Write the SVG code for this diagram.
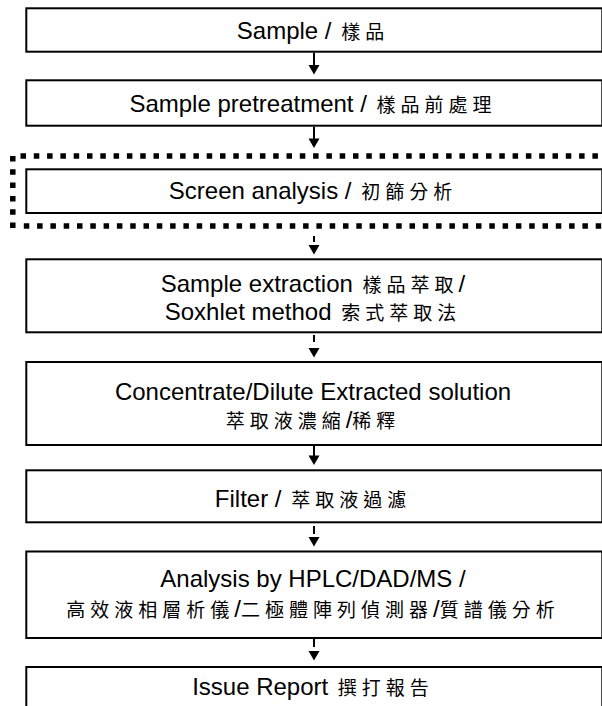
<svg xmlns="http://www.w3.org/2000/svg" xmlns:xlink="http://www.w3.org/1999/xlink" width="602" height="706" viewBox="0 0 602 706">
<style>
.box{fill:#fff;stroke:#000;stroke-width:2}
.t{font-family:"Liberation Sans",Arial,"Noto Sans CJK TC",sans-serif;font-size:24px;fill:#000;text-anchor:middle}
.c{font-family:"Noto Sans CJK TC","Noto Sans CJK SC",sans-serif;font-size:19px;letter-spacing:5px}
.ln{stroke:#000;stroke-width:2;fill:none}
.dot{stroke:#000;stroke-width:5.5;fill:none;stroke-dasharray:5.5 7.8}
</style>
<defs>
<path id="head" d="M-5.5,0 L5.5,0 L0,9.5 Z" fill="#000"/>
</defs>
<rect width="602" height="706" fill="#fff"/>
<g id="screen-frame">
<line class="dot" x1="20.5" y1="156" x2="606" y2="156"/>
<line class="dot" x1="12.8" y1="156" x2="12.8" y2="228"/>
<line class="dot" x1="23.8" y1="226" x2="606" y2="226"/>
</g>
<g id="n1"><rect class="box" x="26.3" y="8.3" width="576" height="43.4"/>
<text class="t" x="313" y="39">Sample / <tspan class="c" dx="3">樣品</tspan></text></g>
<g id="n2"><rect class="box" x="26.3" y="80.3" width="576" height="45.4"/>
<text class="t" x="313" y="112">Sample pretreatment / <tspan class="c" dx="3">樣品前處理</tspan></text></g>
<g id="n3"><rect class="box" x="26.3" y="169.3" width="576" height="43.7"/>
<text class="t" x="313" y="199">Screen analysis / <tspan class="c" dx="3">初篩分析</tspan></text></g>
<g id="n4"><rect class="box" x="26.3" y="259.3" width="576" height="73"/>
<text class="t" x="313" y="292">Sample extraction  <tspan class="c" dx="3">樣品萃取</tspan>/</text>
<text class="t" x="313" y="320">Soxhlet method  <tspan class="c" dx="3">索式萃取法</tspan></text></g>
<g id="n5"><rect class="box" x="26.3" y="362" width="576" height="83"/>
<text class="t" x="313" y="400">Concentrate/Dilute Extracted solution</text>
<text class="t" x="313" y="428"><tspan class="c">萃取液濃縮</tspan>/<tspan class="c">稀釋</tspan></text></g>
<g id="n6"><rect class="box" x="26.3" y="470.3" width="576" height="52"/>
<text class="t" x="313" y="507">Filter / <tspan class="c" dx="3">萃取液過濾</tspan></text></g>
<g id="n7"><rect class="box" x="26.3" y="551.5" width="576" height="86.5"/>
<text class="t" x="313" y="587">Analysis by HPLC/DAD/MS /</text>
<text class="t" x="313" y="617"><tspan class="c">高效液相層析儀</tspan>/<tspan class="c">二極體陣列偵測器</tspan>/<tspan class="c">質譜儀分析</tspan></text></g>
<g id="n8"><rect class="box" x="26.3" y="667" width="576" height="50"/>
<text class="t" x="313" y="695">Issue Report  <tspan class="c" dx="3">撰打報告</tspan></text></g>
<g id="connectors">
<line class="ln" x1="314" y1="52.7" x2="314" y2="65.5"/><use xlink:href="#head" x="314" y="65"/>
<line class="ln" x1="314" y1="126.7" x2="314" y2="139"/><use xlink:href="#head" x="314" y="138.5"/>
<line class="ln" x1="314" y1="236" x2="314" y2="242"/><use xlink:href="#head" x="314" y="245"/>
<line class="ln" x1="314" y1="335" x2="314" y2="342"/><use xlink:href="#head" x="314" y="348"/>
<line class="ln" x1="314" y1="446" x2="314" y2="456"/><use xlink:href="#head" x="314" y="455.5"/>
<line class="ln" x1="314" y1="526" x2="314" y2="534"/><use xlink:href="#head" x="314" y="537"/>
<line class="ln" x1="314" y1="639" x2="314" y2="647"/><use xlink:href="#head" x="314" y="651"/>
</g>
</svg>
